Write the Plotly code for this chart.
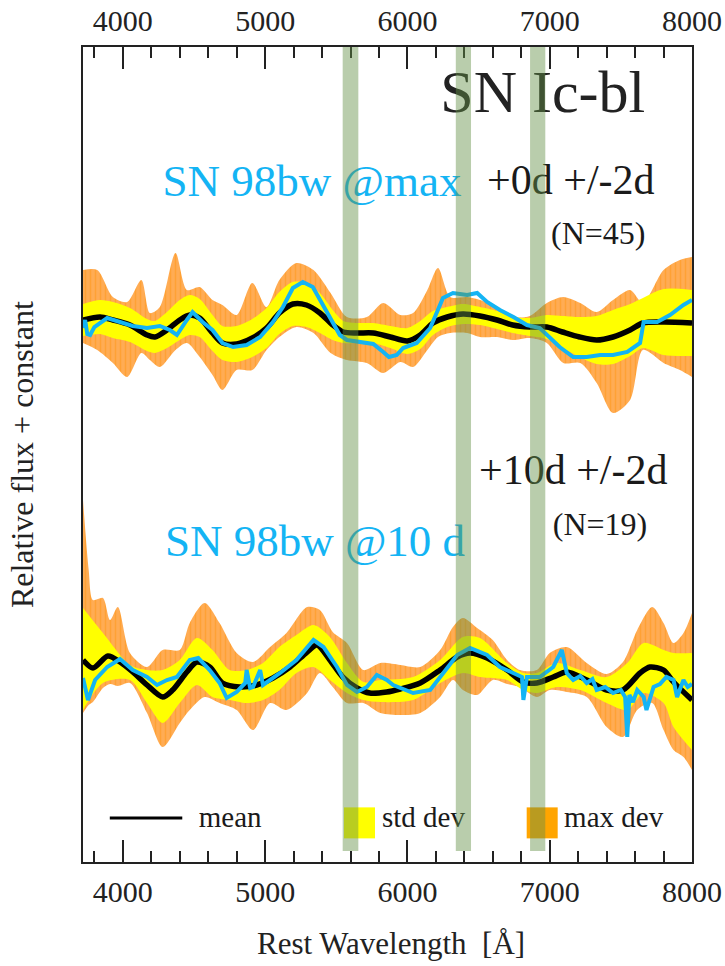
import plotly.graph_objects as go

SERIF = "Liberation Serif"

# ---------------- +0d composite (normalised, before offset) ----------------
wl_mean_0 = [3720, 3840, 3930, 4050, 4170, 4225, 4310, 4400, 4470, 4540, 4630, 4700, 4800, 4910,
             5010, 5100, 5195, 5290, 5385, 5475, 5550, 5645, 5760, 5880, 6000, 6090, 6180, 6280,
             6390, 6510, 6630, 6740, 6860, 6980, 7090, 7210, 7330, 7445, 7565, 7655, 7800, 8000]
mean_0 = [0.02, 0.05, 0.02, -0.03, -0.13, -0.15, -0.08, 0.02, 0.07, 0.04, -0.11, -0.21, -0.22, -0.16,
          -0.06, 0.09, 0.18, 0.17, 0.09, -0.03, -0.10, -0.11, -0.11, -0.15, -0.19, -0.13, -0.01, 0.05,
          0.08, 0.06, 0.02, -0.03, -0.05, -0.05, -0.10, -0.15, -0.18, -0.15, -0.08, -0.01, 0.00, -0.01]
std_0 = [0.16, 0.17, 0.18, 0.17, 0.16, 0.16, 0.18, 0.20, 0.20, 0.19, 0.18, 0.17, 0.18, 0.19,
         0.20, 0.21, 0.22, 0.22, 0.20, 0.15, 0.11, 0.10, 0.10, 0.11, 0.13, 0.14, 0.12, 0.10,
         0.10, 0.09, 0.09, 0.08, 0.09, 0.12, 0.16, 0.20, 0.24, 0.27, 0.26, 0.25, 0.33, 0.33]

wl_max_0 = [3720, 3820, 3930, 4030, 4130, 4190, 4260, 4370, 4450, 4540, 4630, 4700, 4800, 4910,
            5010, 5100, 5220, 5340, 5460, 5575, 5715, 5830, 5950, 6040, 6140, 6215, 6300, 6420,
            6510, 6630, 6740, 6860, 6980, 7095, 7215, 7330, 7445, 7565, 7655, 7800, 7915, 8000]
maxhi_0 = [0.52, 0.52, 0.25, 0.20, 0.42, 0.09, 0.15, 0.69, 0.32, 0.35, 0.22, 0.17, 0.07, 0.39,
           0.15, 0.42, 0.59, 0.52, 0.29, 0.05, 0.05, 0.19, 0.07, 0.09, 0.32, 0.54, 0.25, 0.25,
           0.22, 0.15, 0.05, 0.06, 0.19, 0.25, 0.19, 0.10, 0.22, 0.32, 0.19, 0.52, 0.62, 0.65]
maxlo_0 = [-0.21, -0.28, -0.41, -0.55, -0.31, -0.38, -0.45, -0.28, -0.21, -0.35, -0.53, -0.68, -0.48, -0.48,
           -0.28, -0.15, -0.05, -0.11, -0.31, -0.38, -0.41, -0.51, -0.40, -0.45, -0.28, -0.15, -0.11, -0.11,
           -0.15, -0.15, -0.18, -0.16, -0.21, -0.41, -0.41, -0.61, -0.91, -0.78, -0.28, -0.41, -0.48, -0.55]

wl_98bw_0 = [3720, 3735, 3750, 3770, 3800, 3840, 3890, 3980, 4070, 4170, 4260, 4330, 4380, 4450,
             4490, 4560, 4630, 4700, 4775, 4870, 4965, 5055, 5125, 5195, 5265, 5335, 5405, 5475,
             5525, 5575, 5690, 5760, 5830, 5870, 5925, 5970, 6065, 6160, 6250, 6320, 6420, 6490,
             6560, 6650, 6745, 6840, 6930, 6980, 7070, 7165, 7260, 7355, 7445, 7545, 7635, 7660,
             7755, 7845, 7940, 8000]
flux_98bw_0 = [-0.06, 0.02, -0.12, -0.13, -0.05, -0.01, 0.04, 0.00, -0.04, -0.06, -0.04, -0.08, -0.13, 0.02,
               0.10, 0.00, -0.08, -0.21, -0.25, -0.23, -0.15, 0.00, 0.15, 0.34, 0.40, 0.35, 0.17, 0.00,
               -0.13, -0.18, -0.20, -0.22, -0.30, -0.35, -0.33, -0.26, -0.21, -0.06, 0.24, 0.29, 0.27, 0.29,
               0.20, 0.12, 0.05, -0.03, -0.06, -0.13, -0.25, -0.35, -0.35, -0.33, -0.33, -0.30, -0.21, 0.00,
               0.00, 0.07, 0.17, 0.22]
OFFSET_0 = 5.40

# ---------------- +10d composite (normalised, before offset) ----------------
wl_mean_10 = [3720, 3790, 3895, 3980, 4070, 4170, 4280, 4350, 4450, 4520, 4610, 4700, 4820, 4940,
              5055, 5175, 5295, 5365, 5455, 5545, 5645, 5735, 5855, 5950, 6090, 6230, 6350, 6440,
              6560, 6700, 6815, 6910, 7025, 7120, 7260, 7400, 7515, 7635, 7705, 7800, 7870, 8000]
mean_10 = [0.22, 0.14, 0.26, 0.20, 0.10, -0.03, -0.15, -0.08, 0.10, 0.20, 0.15, -0.01, -0.05, -0.03,
           0.04, 0.15, 0.30, 0.37, 0.22, 0.05, -0.06, -0.11, -0.10, -0.07, -0.01, 0.12, 0.25, 0.29,
           0.24, 0.12, 0.00, -0.01, 0.05, 0.10, 0.02, -0.08, -0.08, 0.09, 0.15, 0.12, 0.00, -0.18]

wl_std_10 = [3720, 3860, 4050, 4170, 4280, 4400, 4520, 4630, 4750, 4870, 4985, 5100, 5220, 5340,
             5455, 5575, 5690, 5810, 6040, 6230, 6390, 6510, 6700, 6815, 6910, 7050, 7215, 7400,
             7545, 7660, 7800, 7870, 8000]
stdhi_10 = [0.74, 0.49, 0.17, 0.12, 0.12, 0.22, 0.44, 0.32, 0.12, 0.12, 0.19, 0.35, 0.47, 0.57,
            0.45, 0.19, 0.00, 0.02, 0.05, 0.22, 0.45, 0.44, 0.19, 0.09, 0.09, 0.19, 0.12, 0.05,
            0.19, 0.39, 0.32, 0.29, 0.29]
stdlo_10 = [-0.28, -0.01, 0.02, -0.21, -0.41, -0.21, -0.03, -0.15, -0.18, -0.21, -0.18, -0.08, 0.09, 0.15,
            0.02, -0.11, -0.18, -0.20, -0.18, -0.01, 0.09, 0.05, 0.02, -0.08, -0.11, -0.05, -0.08, -0.21,
            -0.28, -0.11, -0.21, -0.45, -0.68]

wl_max_10 = [3720, 3760, 3790, 3860, 3910, 3965, 4050, 4170, 4280, 4400, 4470, 4575, 4680, 4800,
             4915, 5035, 5150, 5295, 5385, 5475, 5575, 5690, 5810, 5950, 6090, 6230, 6320, 6390,
             6490, 6600, 6700, 6790, 6910, 7000, 7120, 7260, 7400, 7515, 7615, 7720, 7800, 7870,
             7940, 8000]
maxhi_10 = [1.82, 1.12, 0.82, 0.84, 0.62, 0.75, 0.29, 0.15, 0.32, 0.32, 0.59, 0.79, 0.59, 0.29,
            0.20, 0.35, 0.49, 0.75, 0.72, 0.50, 0.39, 0.12, 0.19, 0.17, 0.15, 0.32, 0.55, 0.64,
            0.54, 0.42, 0.22, 0.12, 0.12, 0.29, 0.35, 0.19, 0.08, 0.20, 0.52, 0.75, 0.59, 0.39,
            0.49, 0.69]
maxlo_10 = [-0.31, -0.23, -0.20, -0.06, -0.02, -0.04, -0.01, -0.31, -0.65, -0.41, -0.28, -0.15, -0.21, -0.28,
            -0.48, -0.21, -0.28, -0.11, 0.09, -0.05, -0.21, -0.21, -0.31, -0.33, -0.31, -0.15, 0.02, -0.08,
            -0.13, 0.02, -0.02, -0.05, -0.15, -0.08, -0.10, -0.15, -0.45, -0.55, -0.28, -0.21, -0.48, -0.68,
            -0.75, -0.88]

wl_98bw_10 = [3720, 3755, 3805, 3890, 3980, 4070, 4170, 4240, 4310, 4380, 4470, 4530, 4610, 4680,
              4730, 4800, 4860, 4870, 4895, 4915, 4965, 4985, 5105, 5220, 5340, 5410, 5505, 5575,
              5645, 5715, 5785, 5855, 5900, 6040, 6160, 6250, 6350, 6440, 6560, 6650, 6745, 6805,
              6815, 6840, 6930, 7025, 7085, 7120, 7165, 7215, 7260, 7300, 7330, 7390, 7445, 7500,
              7530, 7545, 7560, 7585, 7615, 7660, 7680, 7730, 7775, 7820, 7870, 7895, 7940, 7970,
              8000]
flux_98bw_10 = [0.04, -0.18, 0.02, 0.15, 0.23, 0.12, 0.05, -0.03, 0.02, 0.05, 0.22, 0.24, 0.12, -0.01,
                -0.16, -0.10, -0.01, 0.12, -0.06, -0.05, 0.12, -0.03, 0.09, 0.22, 0.42, 0.35, 0.15, -0.03,
                -0.10, -0.05, 0.07, 0.02, -0.03, -0.11, -0.08, 0.09, 0.27, 0.34, 0.27, 0.15, 0.09, 0.05,
                -0.18, 0.05, 0.05, 0.15, 0.32, 0.09, 0.02, 0.06, -0.01, 0.03, -0.08, -0.05, -0.11, -0.08,
                -0.15, -0.55, -0.13, -0.20, -0.08, -0.15, -0.28, -0.05, -0.02, 0.05, 0.02, -0.15, 0.02, -0.05,
                -0.02]
OFFSET_10 = 1.80

# Highlighted wavelength windows (Angstrom)
bands = [(5545, 5655), (6340, 6447), (6862, 6969)]
x_range = [3720, 8000]
y_range = [0, 8.15]

ORANGE_LIGHT = "rgb(255,172,84)"
ORANGE_DARK = "rgb(255,150,20)"
YELLOW = "#ffff00"
CYAN = "#14b4f4"
BAND = "rgba(100,145,70,0.45)"


def shift(vals, off):
    return [v + off for v in vals]


fig = go.Figure()


def add_epoch(off, wl_mean, mean, wl_std, std_lo, std_hi, wl_max, max_lo, max_hi, wl_sn, sn):
    # max deviation envelope (striped fill)
    fig.add_trace(go.Scatter(x=wl_max, y=shift(max_lo, off), mode="lines",
                             line=dict(width=0, shape="spline", smoothing=0.8),
                             hoverinfo="skip", showlegend=False))
    fig.add_trace(go.Scatter(x=wl_max, y=shift(max_hi, off), mode="lines",
                             line=dict(width=0, shape="spline", smoothing=0.8),
                             fill="tonexty", fillcolor=ORANGE_LIGHT,
                             fillpattern=dict(shape="|", bgcolor=ORANGE_LIGHT, fgcolor=ORANGE_DARK,
                                              size=5, solidity=0.3),
                             hoverinfo="skip", showlegend=False))
    # standard deviation envelope
    fig.add_trace(go.Scatter(x=wl_std, y=shift(std_lo, off), mode="lines",
                             line=dict(width=0, shape="spline", smoothing=0.8),
                             hoverinfo="skip", showlegend=False))
    fig.add_trace(go.Scatter(x=wl_std, y=shift(std_hi, off), mode="lines",
                             line=dict(width=0, shape="spline", smoothing=0.8),
                             fill="tonexty", fillcolor=YELLOW,
                             hoverinfo="skip", showlegend=False))
    # mean spectrum
    fig.add_trace(go.Scatter(x=wl_mean, y=shift(mean, off), mode="lines",
                             line=dict(color="black", width=5.5, shape="spline", smoothing=0.8),
                             showlegend=False))
    # SN 1998bw
    fig.add_trace(go.Scatter(x=wl_sn, y=shift(sn, off), mode="lines",
                             line=dict(color=CYAN, width=4),
                             showlegend=False))


std_lo_0 = [m - s for m, s in zip(mean_0, std_0)]
std_hi_0 = [m + s for m, s in zip(mean_0, std_0)]

add_epoch(OFFSET_0, wl_mean_0, mean_0, wl_mean_0, std_lo_0, std_hi_0,
          wl_max_0, maxlo_0, maxhi_0, wl_98bw_0, flux_98bw_0)
add_epoch(OFFSET_10, wl_mean_10, mean_10, wl_std_10, stdlo_10, stdhi_10,
          wl_max_10, maxlo_10, maxhi_10, wl_98bw_10, flux_98bw_10)

# top wavelength axis carrier
fig.add_trace(go.Scatter(x=x_range, y=[None, None], xaxis="x2", yaxis="y",
                         mode="lines", showlegend=False, hoverinfo="skip"))


# ---- labels and key, on a unit overlay so the windows are drawn over them ----
def label(u, w, text, size, color="#1a1a1a", pos="middle center"):
    fig.add_trace(go.Scatter(x=[u], y=[w], xaxis="x3", yaxis="y3", mode="text",
                             text=[text], textposition=pos,
                             textfont=dict(family=SERIF, size=size, color=color),
                             hoverinfo="skip", showlegend=False))


label(0.755, 0.939, "SN Ic-bl", 60, "#222222")
label(0.376, 0.831, "SN 98bw @max", 45, CYAN)
label(0.801, 0.833, "+0d +/-2d", 42)
label(0.846, 0.768, "(N=45)", 32)
label(0.805, 0.477, "+10d +/-2d", 42)
label(0.849, 0.411, "(N=19)", 32)
label(0.381, 0.389, "SN 98bw @10 d", 45, CYAN)

# key
fig.add_trace(go.Scatter(x=[0.044, 0.163], y=[0.054, 0.054], xaxis="x3", yaxis="y3",
                         mode="lines", line=dict(color="black", width=3),
                         hoverinfo="skip", showlegend=False))
fig.add_trace(go.Scatter(x=[0.454], y=[0.048], xaxis="x3", yaxis="y3", mode="markers",
                         marker=dict(symbol="square", size=31, color=YELLOW, line=dict(width=0)),
                         hoverinfo="skip", showlegend=False))
fig.add_trace(go.Scatter(x=[0.754], y=[0.048], xaxis="x3", yaxis="y3", mode="markers",
                         marker=dict(symbol="square", size=31, color="#ffa500", line=dict(width=0)),
                         hoverinfo="skip", showlegend=False))
label(0.19, 0.052, "mean", 29, pos="middle right")
label(0.491, 0.052, "std dev", 29, pos="middle right")
label(0.79, 0.052, "max dev", 29, pos="middle right")

# shaded wavelength windows, drawn above everything
for lo, hi in bands:
    fig.add_shape(type="rect", xref="x", yref="paper", x0=lo, x1=hi, y0=0.0135, y1=1,
                  fillcolor=BAND, line=dict(width=0), layer="above")

axis_common = dict(
    range=x_range, dtick=1000, tick0=0, ticks="inside", ticklen=22, tickwidth=1.5,
    tickcolor="#222222", showline=True, linecolor="#222222", linewidth=1.5,
    showgrid=False, zeroline=False, automargin=False,
    tickfont=dict(family=SERIF, size=30, color="#222222"),
    ticklabelstandoff=2,
    minor=dict(dtick=200, tick0=0, ticks="inside", ticklen=11, tickwidth=1.5, tickcolor="#222222"),
)

fig.update_layout(
    width=725, height=966,
    margin=dict(l=83, r=33, t=47, b=104, autoexpand=False),
    paper_bgcolor="white", plot_bgcolor="white",
    showlegend=False,
    font=dict(family=SERIF, color="#222222"),
    xaxis=dict(**axis_common, mirror=True, side="bottom"),
    xaxis2=dict(**axis_common, overlaying="x", side="top", anchor="y", matches="x"),
    yaxis=dict(range=y_range, showline=True, linecolor="#222222", linewidth=1.5, mirror=True,
               showticklabels=False, ticks="", showgrid=False, zeroline=False, automargin=False),
    xaxis3=dict(range=[0, 1], overlaying="x", anchor="y3", visible=False),
    yaxis3=dict(range=[0, 1], overlaying="y", anchor="x3", visible=False),
    annotations=[
        dict(text="Rest Wavelength  [Å]", xref="paper", yref="paper", x=0.506, y=-0.0994,
             xanchor="center", yanchor="middle", showarrow=False,
             font=dict(family=SERIF, size=31, color="#222222")),
        dict(text="Relative flux + constant", xref="paper", yref="paper", x=-0.1, y=0.4994,
             xanchor="center", yanchor="middle", textangle=-90, showarrow=False,
             font=dict(family=SERIF, size=32, color="#222222")),
    ],
)

fig.write_html("out.html")
